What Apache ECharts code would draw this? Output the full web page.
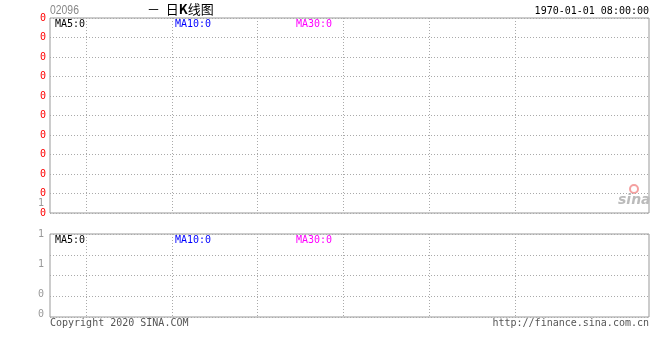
<!DOCTYPE html>
<html><head><meta charset="utf-8">
<script src="https://cdn.jsdelivr.net/npm/echarts@6/dist/echarts.min.js"></script>
<style>html,body{margin:0;padding:0;background:#fff}#c{width:660px;height:360px}</style>
</head><body><div id="c"></div>
<script>
// ---- data ----
const stockCode = '02096';
const titleParts = ['－  日', 'K', '线图'];
const timeStamp = '1970-01-01 08:00:00';
const categories = [];           // no trading days
const kData = [];                // [open, close, low, high]
const volData = [];
const maNames = ['MA5', 'MA10', 'MA30'];
const maValues = [0, 0, 0];
const mainTickLabels = ['0','0','0','0','0','0','0','0','0','0','0'];
const mainExtraTickValues = [0.5];
const mainExtraTickLabels = ['1'];
const subTickValues = [3, 23, 53, 83];
const subTickLabels = ['0', '0', '1', '1'];
const copyright = 'Copyright 2020 SINA.COM';
const siteUrl = 'http://finance.sina.com.cn';

// ---- styles ----
const MONO = '"DejaVu Sans Mono", "Liberation Mono", monospace';
const maColors = ['#000000', '#0000ff', '#ff00ff'];
const gridColor = '#aaaaaa';
const borderColor = '#999999';
const G1 = {left: 50, top: 18, width: 599, height: 195};
const G2 = {left: 50, top: 234, width: 599, height: 83};
const vGridOffset = 36, vGridStep = 85.8, vGridCount = 6;
const vGridValues = [];
for (let k = 0; k < vGridCount; k++) vGridValues.push(+(vGridOffset + k * vGridStep).toFixed(1));

const chart = echarts.init(document.getElementById('c'), null, {renderer: 'canvas'});

function xAxisFor(idx) {
  return {
    type: 'value', gridIndex: idx, min: 0, max: G1.width,
    axisLine: {show: false}, axisTick: {show: false, customValues: vGridValues}, axisLabel: {show: false},
    splitLine: {show: true, lineStyle: {color: gridColor, type: [1, 2], width: 1}}
  };
}

const legendTexts = [];
[G1.top + 1, G2.top + 1].forEach(function (y) {
  const xs = [55, 175, 296];
  maNames.forEach(function (n, i) {
    legendTexts.push({
      type: 'text', left: xs[i], top: y,
      style: {text: n + ':' + maValues[i], fill: maColors[i], font: '10px ' + MONO}
    });
  });
});

chart.setOption({
  animation: false,
  backgroundColor: '#fff',
  grid: [
    Object.assign({show: true, borderColor: borderColor, borderWidth: 1, backgroundColor: 'transparent'}, G1),
    Object.assign({show: true, borderColor: borderColor, borderWidth: 1, backgroundColor: 'transparent'}, G2)
  ],
  xAxis: [xAxisFor(0), xAxisFor(1)],
  yAxis: [
    {
      type: 'value', gridIndex: 0, min: 0, max: 10, interval: 1,
      axisLine: {show: false}, axisTick: {show: false},
      axisLabel: {
        color: '#ff0000', fontFamily: MONO, fontSize: 10, margin: 4,
        padding: [0, 0, 6, 0], showMinLabel: true, showMaxLabel: true,
        formatter: function (v) { return mainTickLabels[Math.round(v)]; }
      },
      splitLine: {show: true, lineStyle: {color: gridColor, type: [1, 2]}}
    },
    {
      type: 'value', gridIndex: 0, min: 0, max: 10, position: 'left',
      axisLine: {show: false}, axisTick: {show: false}, splitLine: {show: false},
      axisLabel: {
        customValues: mainExtraTickValues, color: '#999', fontFamily: MONO, fontSize: 10, margin: 6,
        padding: [0, 0, 2, 0],
        formatter: function (v) { const i = mainExtraTickValues.indexOf(v); return i >= 0 ? mainExtraTickLabels[i] : ''; }
      }
    },
    {
      type: 'value', gridIndex: 1, min: 0, max: 4, interval: 1,
      axisLine: {show: false}, axisTick: {show: false}, axisLabel: {show: false},
      splitLine: {show: true, lineStyle: {color: gridColor, type: [1, 2]}}
    },
    {
      type: 'value', gridIndex: 1, min: 0, max: 83, position: 'left',
      axisLine: {show: false}, axisTick: {show: false}, splitLine: {show: false},
      axisLabel: {
        customValues: subTickValues, color: '#999', fontFamily: MONO, fontSize: 10, margin: 6,
        padding: [0, 0, 10, 0], showMinLabel: true, showMaxLabel: true,
        formatter: function (v) { const i = subTickValues.indexOf(v); return i >= 0 ? subTickLabels[i] : ''; }
      }
    }
  ],
  series: [
    {type: 'candlestick', xAxisIndex: 0, yAxisIndex: 0, data: kData},
    {type: 'bar', xAxisIndex: 1, yAxisIndex: 2, data: volData}
  ],
  graphic: [
    {type: 'text', x: 50, y: 4, scaleX: 0.8, style: {text: stockCode, fill: '#888', font: '13px "Liberation Sans", sans-serif'}},
    {type: 'text', left: 147, top: 3, style: {
      text: titleParts[0] + '{b|' + titleParts[1] + '}' + titleParts[2],
      fill: '#000', font: '13px "Noto Sans CJK SC", sans-serif',
      rich: {b: {fontWeight: 'bold', fontSize: 13, fontFamily: '"Noto Sans CJK SC", sans-serif', fill: '#000'}}
    }},
    {type: 'text', right: 11, top: 6, style: {text: timeStamp, fill: '#000', font: '10px ' + MONO}},
    {type: 'text', left: 50, top: 318, style: {text: copyright, fill: '#555', font: '10px ' + MONO}},
    {type: 'text', right: 11, top: 318, style: {text: siteUrl, fill: '#555', font: '10px ' + MONO}},
    {type: 'circle', shape: {cx: 634, cy: 189, r: 4}, style: {fill: 'none', stroke: '#f4a0a0', lineWidth: 2}},
    {type: 'text', left: 618, top: 193, style: {text: 'sina', fill: '#bbb', font: 'italic bold 14px "DejaVu Sans", sans-serif'}}
  ].concat(legendTexts)
});
</script></body></html>
